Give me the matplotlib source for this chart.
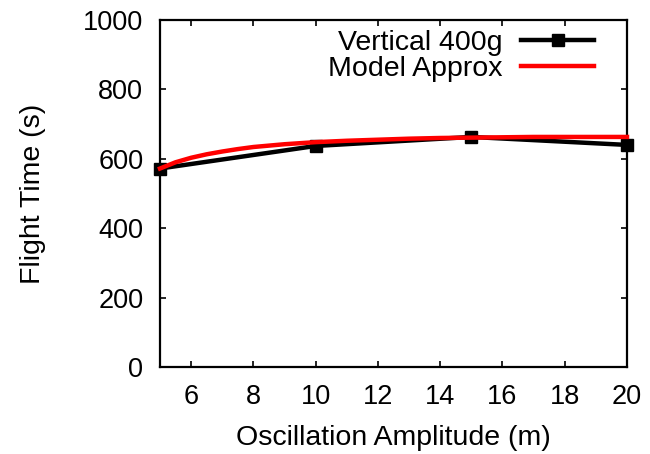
import matplotlib
matplotlib.use("Agg")
import matplotlib.pyplot as plt

plt.rcParams['font.family'] = ['Liberation Sans', 'DejaVu Sans']

# measured data
amplitude = [5, 10, 15, 20]
flight_time = [572, 637, 663, 640]

# model curve
model_x = [5, 5.5, 6, 6.5, 7, 7.5, 8, 9, 10, 11, 12, 13, 14, 15, 16, 17, 18, 19, 20]
model_y = [572, 590, 603, 613, 621, 628, 634, 642, 648, 652, 655, 658, 660, 661, 662, 663, 663, 663, 663]

fig = plt.figure(figsize=(6.5, 4.54), dpi=100)
ax = fig.add_axes([160 / 650, 1 - 367 / 454, 467 / 650, 347 / 454])

ax.plot(amplitude, flight_time, color="black", lw=3.2, marker="s", ms=8,
        label="Vertical 400g", clip_on=False, zorder=3)
ax.plot(model_x, model_y, color="red", lw=3.2, label="Model Approx",
        clip_on=False, zorder=4)

ax.set_xlim(5, 20)
ax.set_ylim(0, 1000)
ax.set_xticks([6, 8, 10, 12, 14, 16, 18, 20])
ax.set_yticks([0, 200, 400, 600, 800, 1000])
ax.tick_params(direction="in", top=True, right=True, length=4.5, width=1.2,
               labelsize=19.5, pad=12)
for s in ax.spines.values():
    s.set_linewidth(1.6)

ax.set_xlabel("Oscillation Amplitude (m)", fontsize=20.5, labelpad=11)
ax.set_ylabel("Flight Time (s)", fontsize=20.5, labelpad=27)

ax.legend(loc="upper right", frameon=False, markerfirst=False, fontsize=20.5,
          handlelength=2.55, handletextpad=0.65, borderaxespad=0, borderpad=0,
          labelspacing=0.0, bbox_to_anchor=(0.929, 0.97))

fig.savefig("out.png", dpi=100)
